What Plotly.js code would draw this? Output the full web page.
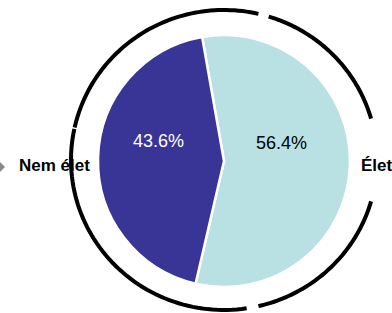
<!DOCTYPE html>
<html>
<head>
<meta charset="utf-8">
<script src="https://cdn.plot.ly/plotly-3.0.1.min.js"></script>
<style>html,body{margin:0;padding:0;background:#fff;}#chart{width:392px;height:313px;}</style>
</head>
<body>
<div id="chart"></div>
<script>
var categories = ["Élet", "Nem élet"];
var values = [56.4, 43.6];
var sliceColors = ["#b9e0e3", "#393597"];
var textColors = ["#000000", "#ffffff"];

var W = 392, H = 313;
var FONT = "Liberation Sans, Arial, sans-serif";
// decorative ring (pixel geometry)
var cx = 224, cy = 160, rx = 153, ry = 150;
function arcPath(a0, a1) {
  var n = 60, d = "";
  for (var i = 0; i <= n; i++) {
    var a = (a0 + (a1 - a0) * i / n) * Math.PI / 180;
    var px = cx + rx * Math.cos(a), py = cy - ry * Math.sin(a);
    d += (i === 0 ? "M" : "L") + (px / W).toFixed(5) + "," + (1 - py / H).toFixed(5);
  }
  return d;
}
var arcs = [[77, 167.5], [16, 73], [-77, -16], [-192, -81.5]];
var shapes = arcs.map(function (r) {
  return {type: "path", xref: "paper", yref: "paper", path: arcPath(r[0], r[1]),
          line: {color: "#000", width: 4}};
});
// grey pointer at the left edge
shapes.push({type: "path", xref: "paper", yref: "paper",
  path: "M" + (-8 / W) + "," + (1 - 167 / H) + "L" + (-2 / W) + "," + (1 - 160 / H) +
        "L" + (5 / W) + "," + (1 - 167 / H) + "L" + (-2 / W) + "," + (1 - 174 / H) + "Z",
  fillcolor: "#888888", line: {width: 0}});

var trace = {
  type: "pie",
  labels: categories,
  values: values,
  sort: false,
  direction: "clockwise",
  rotation: -10,
  marker: {colors: sliceColors, line: {color: "#ffffff", width: 2.5}},
  textinfo: "none",
  hoverinfo: "label+percent",
  domain: {x: [(224 - 126) / W, (224 + 126) / W], y: [(H - 161 - 126) / H, (H - 161 + 126) / H]},
  showlegend: false
};

var total = values.reduce(function (a, b) { return a + b; }, 0);
var pctPos = [[281, 143], [158, 141]];
var annotations = values.map(function (v, i) {
  return {text: (100 * v / total).toFixed(1) + "%", xref: "paper", yref: "paper",
          x: pctPos[i][0] / W, y: 1 - pctPos[i][1] / H, xanchor: "center", yanchor: "middle",
          showarrow: false, font: {family: FONT, size: 18, color: textColors[i]}};
});
annotations.push(
  {text: "<b>" + categories[1] + "</b>", xref: "paper", yref: "paper", x: 55 / W, y: 1 - 165 / H,
   xanchor: "center", yanchor: "middle", showarrow: false,
   font: {family: FONT, size: 17, color: "#000"}},
  {text: "<b>" + categories[0] + "</b>", xref: "paper", yref: "paper", x: 359 / W, y: 1 - 165 / H,
   xanchor: "left", yanchor: "middle", showarrow: false,
   font: {family: FONT, size: 17, color: "#000"}}
);

var layout = {
  width: W, height: H,
  margin: {l: 0, r: 0, t: 0, b: 0},
  paper_bgcolor: "#fff",
  shapes: shapes,
  annotations: annotations
};

Plotly.newPlot("chart", [trace], layout, {displayModeBar: false, staticPlot: true});
</script>
</body>
</html>
